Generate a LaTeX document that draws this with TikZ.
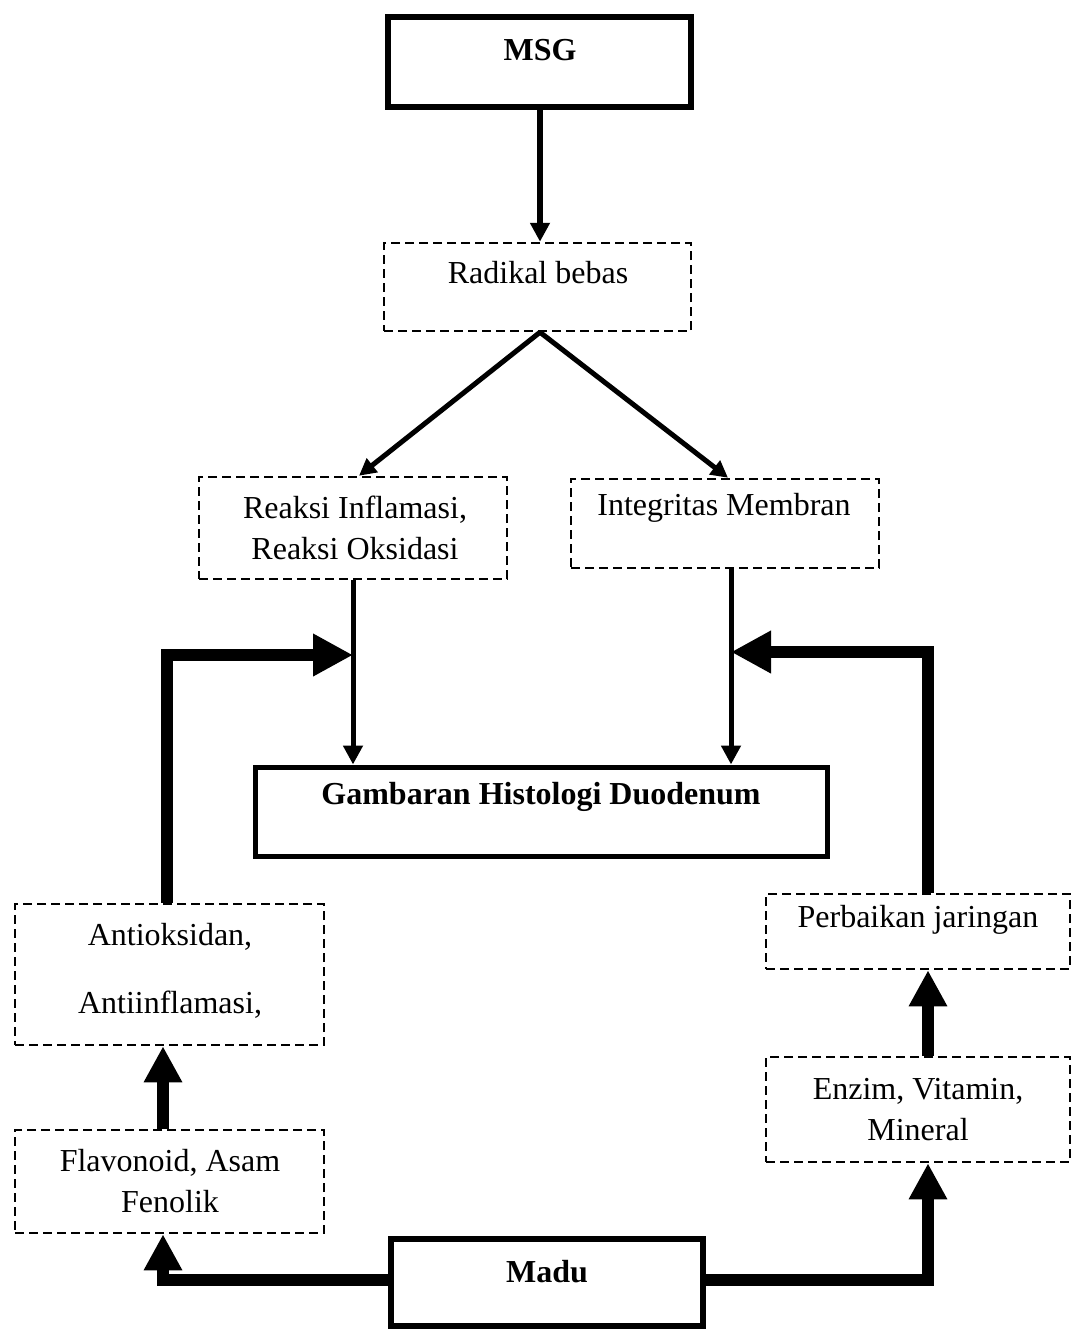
\documentclass[tikz,border=0pt]{standalone}
\usepackage{fontspec}
\setmainfont{Liberation Serif}
\usetikzlibrary{arrows.meta}
\begin{document}
\begin{tikzpicture}[x=1pt,y=-1pt,
  sbox/.style={draw, line width=6pt, inner sep=0pt},
  dbox/.style={draw, line width=2.5pt, dash pattern=on 9pt off 5pt, inner sep=0pt},
  txt/.style={font=\fontsize{32}{41}\selectfont, align=center, inner sep=0pt},
  btxt/.style={font=\fontsize{32}{41}\selectfont\bfseries, align=center, inner sep=0pt},
  thinarr/.style={line width=5pt, -{Triangle[length=19pt,width=19pt]}},
  diagarr/.style={line width=5pt, -{Triangle[length=17pt,width=17pt]}},
  bigarr/.style={line width=12pt, -{Triangle[length=40pt,width=40pt]}},
  midarr/.style={line width=12pt, -{Triangle[length=36pt,width=36pt]}}
]
\useasboundingbox (0,0) rectangle (1072,1331);

% boxes
\node[sbox, minimum width=303pt, minimum height=90pt] (msg) at (539.5,62) {};
\node[dbox, minimum width=307pt, minimum height=88pt] (rad) at (537.5,287) {};
\node[dbox, minimum width=308pt, minimum height=102pt] (reaksi) at (353,528) {};
\node[dbox, minimum width=308pt, minimum height=89pt] (integ) at (725,523.5) {};
\node[sbox, line width=5pt, minimum width=572pt, minimum height=89pt] (gamb) at (541,811.5) {};
\node[dbox, minimum width=309pt, minimum height=141pt] (anti) at (169.5,974.5) {};
\node[dbox, minimum width=309pt, minimum height=103pt] (flav) at (169.5,1181.5) {};
\node[dbox, minimum width=304pt, minimum height=75pt] (perb) at (918,931.5) {};
\node[dbox, minimum width=304pt, minimum height=105pt] (enzim) at (918,1109.5) {};
\node[sbox, minimum width=312pt, minimum height=87pt] (madu) at (547,1282.5) {};

% texts
\node[btxt] (msgt) at (540,50) {MSG};
\node[txt] (radt) at (538,273) {Radikal bebas};
\node[txt] (reaksit) at (355,528) {Reaksi Inflamasi,\\Reaksi Oksidasi};
\node[txt] (integt) at (724,508) {Integritas Membran};
\node[btxt] (gambt) at (541,797) {Gambaran Histologi Duodenum};
\node[txt] (antit1) at (170,937) {Antioksidan,};
\node[txt] (antit2) at (170,1005) {Antiinflamasi,};
\node[txt] (flavt) at (170,1181) {Flavonoid, Asam\\Fenolik};
\node[txt] (perbt) at (918,920) {Perbaikan jaringan};
\node[txt] (enzimt) at (918,1110) {Enzim, Vitamin,\\Mineral};
\node[btxt] (madut) at (547,1272) {Madu};

% connectors
\draw[thinarr, line width=6pt] (msg.south) ++(0.5,0) coordinate (ms) -- (ms |- rad.north);
\draw[diagarr] (rad.south) ++(2.5,0) coordinate (rs) -- ([xshift=6pt]reaksi.north);
\draw[diagarr] (rs) -- ([xshift=3pt]integ.north);
\draw[thinarr] (reaksi.south) -- (reaksi.south |- gamb.north);
\coordinate (is) at ([xshift=6pt]integ.south);
\draw[thinarr] (is) -- (is |- gamb.north);

\coordinate (jl) at (353,655);
\coordinate (jr) at (is |- 0,652);
\draw[bigarr] (anti.north -| 167,0) |- (jl);
\draw[bigarr] (perb.north -| 928,0) |- (jr);

\draw[midarr] (flav.north -| 163,0) -- (anti.south -| 163,0);
\draw[midarr] (enzim.north -| 928,0) -- (perb.south -| 928,0);
\draw[midarr] (madu.west |- 0,1280) -| (flav.south -| 163,0);
\draw[midarr] (madu.east |- 0,1280) -| (enzim.south -| 928,0);
\end{tikzpicture}
\end{document}
